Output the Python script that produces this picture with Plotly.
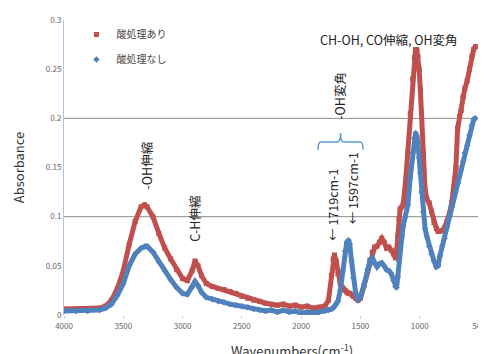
import plotly.graph_objects as go

wavenumber = [4000, 3900, 3800, 3700, 3650, 3600, 3550, 3500, 3450, 3400, 3350, 3320, 3300, 3250, 3200,
              3150, 3100, 3050, 3000, 2960, 2920, 2895, 2870, 2840, 2800, 2750, 2700, 2650, 2600, 2550,
              2500, 2450, 2400, 2350, 2300, 2250, 2200, 2150, 2100, 2050, 2000, 1950, 1900, 1850, 1800,
              1770, 1745, 1730, 1719, 1705, 1690, 1670, 1650, 1630, 1615, 1600, 1590, 1575, 1560, 1540,
              1520, 1500, 1470, 1440, 1420, 1400, 1380, 1360, 1340, 1320, 1300, 1280, 1260, 1240, 1220,
              1205, 1195, 1185, 1175, 1165, 1150, 1140, 1120, 1100, 1080, 1060, 1045, 1035, 1025, 1015,
              1005, 995, 985, 970, 955, 940, 920, 900, 880, 860, 845, 830, 810, 790, 770,
              750, 730, 710, 695, 680, 665, 650, 635, 620, 600, 580, 560, 545, 530]

acid_treated = [0.006, 0.006, 0.006, 0.007, 0.009, 0.015, 0.027, 0.045, 0.072, 0.095, 0.110, 0.112, 0.110, 0.100, 0.083,
                0.068, 0.057, 0.046, 0.037, 0.035, 0.045, 0.055, 0.050, 0.040, 0.032, 0.029, 0.027, 0.026, 0.024, 0.022,
                0.019, 0.017, 0.015, 0.014, 0.012, 0.011, 0.010, 0.011, 0.009, 0.010, 0.008, 0.009, 0.007, 0.008, 0.009,
                0.015, 0.040, 0.057, 0.061, 0.055, 0.042, 0.032, 0.028, 0.025, 0.023, 0.022, 0.022, 0.021, 0.019, 0.017,
                0.015, 0.017, 0.030, 0.045, 0.056, 0.064, 0.069, 0.070, 0.074, 0.078, 0.074, 0.068, 0.069, 0.066, 0.062,
                0.058, 0.065, 0.080, 0.098, 0.108, 0.110, 0.112, 0.135, 0.165, 0.205, 0.240, 0.262, 0.270, 0.270, 0.263,
                0.250, 0.230, 0.205, 0.165, 0.128, 0.118, 0.114, 0.105, 0.094, 0.088, 0.085, 0.085, 0.086, 0.089, 0.095,
                0.103, 0.114, 0.130, 0.150, 0.190, 0.202, 0.208, 0.222, 0.230, 0.238, 0.250, 0.263, 0.270, 0.273]

untreated = [0.004, 0.004, 0.004, 0.005, 0.007, 0.011, 0.020, 0.032, 0.050, 0.062, 0.068, 0.070, 0.070, 0.064, 0.054,
             0.045, 0.036, 0.028, 0.022, 0.021, 0.028, 0.034, 0.030, 0.023, 0.018, 0.016, 0.014, 0.013, 0.011, 0.010,
             0.009, 0.008, 0.006, 0.005, 0.004, 0.005, 0.003, 0.005, 0.003, 0.004, 0.002, 0.003, 0.002, 0.003, 0.004,
             0.005, 0.006, 0.007, 0.009, 0.011, 0.014, 0.025, 0.045, 0.065, 0.074, 0.076, 0.072, 0.055, 0.038, 0.022,
             0.016, 0.018, 0.030, 0.046, 0.055, 0.058, 0.052, 0.049, 0.052, 0.053, 0.050, 0.046, 0.045, 0.042, 0.035,
             0.029, 0.028, 0.039, 0.055, 0.066, 0.080, 0.090, 0.100, 0.112, 0.140, 0.165, 0.180, 0.185, 0.182, 0.175,
             0.160, 0.145, 0.125, 0.105, 0.088, 0.080, 0.070, 0.062, 0.055, 0.049, 0.050, 0.060, 0.070, 0.078, 0.090,
             0.101, 0.110, 0.120, 0.127, 0.134, 0.142, 0.148, 0.156, 0.165, 0.172, 0.183, 0.193, 0.199, 0.200]

series_names = ["酸処理あり", "酸処理なし"]
y_ticks = [0, 0.05, 0.1, 0.15, 0.2, 0.25, 0.3]
y_tick_text = ["0", "0.05", "0.1", "0.15", "0.2", "0.25", "0.3"]
x_ticks = [4000, 3500, 3000, 2500, 2000, 1500, 1000, 500]
grid_levels = [0.1, 0.2]

RED = "#C0504D"
BLUE = "#4F81BD"
FONT = "Noto Sans CJK JP, Noto Sans, sans-serif"

fig = go.Figure()
fig.add_trace(go.Scatter(x=wavenumber, y=acid_treated, mode="lines+markers",
                         line=dict(color=RED, width=5), marker=dict(symbol="square", size=5, color=RED),
                         showlegend=False))
fig.add_trace(go.Scatter(x=wavenumber, y=untreated, mode="lines+markers",
                         line=dict(color=BLUE, width=5), marker=dict(symbol="diamond", size=5, color=BLUE),
                         showlegend=False))
fig.add_trace(go.Scatter(x=[None], y=[None], mode="markers", name=series_names[0], legendgroup="a",
                         marker=dict(symbol="square", size=5, color=RED)))
fig.add_trace(go.Scatter(x=[None], y=[None], mode="markers", name=series_names[1], legendgroup="b",
                         marker=dict(symbol="diamond", size=5, color=BLUE)))

shapes = []
for g in grid_levels:
    shapes.append(dict(type="line", xref="paper", x0=0, x1=1, yref="y", y0=g, y1=g,
                       line=dict(color="#8C8C8C", width=1), layer="below"))
shapes.append(dict(type="line", xref="paper", x0=1, x1=1, yref="paper", y0=0, y1=1,
                   line=dict(color="#D0D0D0", width=1.5), layer="below"))
bx0, bx1, bxm = 1858, 1478, 1668
by_end, by_arm, by_top = 0.168, 0.176, 0.185
d = 25
path = (f"M {bx0},{by_end} Q {bx0},{by_arm} {bx0 - d},{by_arm} L {bxm + d},{by_arm} "
        f"Q {bxm},{by_arm} {bxm},{by_top} Q {bxm},{by_arm} {bxm - d},{by_arm} "
        f"L {bx1 + d},{by_arm} Q {bx1},{by_arm} {bx1},{by_end}")
shapes.append(dict(type="path", xref="x", yref="y", path=path, line=dict(color="#5B9BD5", width=1.5)))

ann_font = dict(family=FONT, size=12.5, color="#222222")
annotations = [
    dict(x=3308, y=0.152, text="-OH伸縮", textangle=-90, showarrow=False, font=ann_font),
    dict(x=2895, y=0.098, text="C-H伸縮", textangle=-90, showarrow=False, font=ann_font),
    dict(x=1672, y=0.223, text="-OH変角", textangle=-90, showarrow=False, font=ann_font),
    dict(x=1259, y=0.280, text="CH-OH, CO伸縮, OH変角", showarrow=False, font=ann_font),
    dict(x=1731, y=0.112, text="← 1719cm-1", textangle=-90, showarrow=False, font=ann_font),
    dict(x=1570, y=0.129, text="← 1597cm-1", textangle=-90, showarrow=False, font=ann_font),
    dict(xref="paper", yref="paper", x=0.55, y=-0.118, yanchor="middle",
         text="Wavenumbers(cm<sup>-1</sup>)", showarrow=False,
         font=dict(family=FONT, size=13, color="#333333")),
]

fig.update_layout(
    width=478, height=346,
    margin=dict(l=56, r=7, t=12, b=39, autoexpand=False),
    paper_bgcolor="white", plot_bgcolor="white",
    font=dict(family=FONT),
    shapes=shapes, annotations=annotations,
    showlegend=True,
    legend=dict(x=0.03, y=1.0, xanchor="left", yanchor="top", bgcolor="rgba(0,0,0,0)",
                font=dict(family=FONT, size=10, color="#444444"), tracegroupgap=6,
                itemwidth=30),
    xaxis=dict(range=[4000, 500], tickvals=x_ticks, ticktext=[str(v) for v in x_ticks],
               showgrid=False, zeroline=False, showline=False, automargin=False,
               ticks="outside", ticklen=3, tickcolor="#D0D0D0", ticklabeloverflow="allow",
               tickfont=dict(family=FONT, size=8, color="#666666")),
    yaxis=dict(range=[0, 0.3], tickvals=y_ticks, ticktext=y_tick_text, automargin=False,
               showgrid=False, zeroline=False, showline=True, linecolor="#A9C6E8", linewidth=1,
               ticks="", tickfont=dict(family=FONT, size=8, color="#666666"),
               title=dict(text="Absorbance", standoff=18, font=dict(family=FONT, size=13, color="#333333"))),
)

fig.write_html("out.html")
